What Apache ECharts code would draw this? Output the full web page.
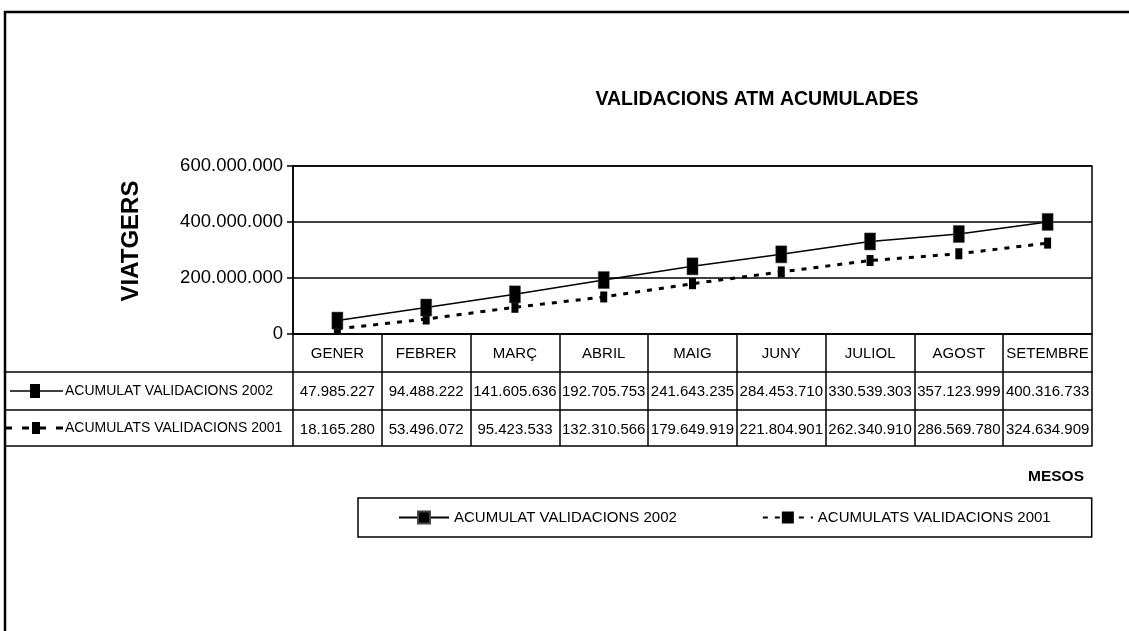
<!DOCTYPE html>
<html>
<head>
<meta charset="utf-8">
<script src="https://cdn.jsdelivr.net/npm/echarts@6/dist/echarts.min.js"></script>
<style>
  html, body { margin: 0; padding: 0; background: #fff; }
  #chart { width: 1129px; height: 631px; }
</style>
</head>
<body>
<div id="chart"></div>
<script>
// dades
const months = ['GENER', 'FEBRER', 'MARÇ', 'ABRIL', 'MAIG', 'JUNY', 'JULIOL', 'AGOST', 'SETEMBRE']
const val2002 = [47985227, 94488222, 141605636, 192705753, 241643235, 284453710, 330539303, 357123999, 400316733]
const val2001 = [18165280, 53496072, 95423533, 132310566, 179649919, 221804901, 262340910, 286569780, 324634909]
const name2002 = 'ACUMULAT VALIDACIONS 2002'
const name2001 = 'ACUMULATS VALIDACIONS 2001'
const yMin = 0
const yMax = 600000000
const yStep = 200000000

const FONT = '"Liberation Sans", Arial, sans-serif'

// layout
const plotLeft = 293
const plotRight = 1092
const plotTop = 166
const plotBottom = 334
const rows = [38, 38, 36]

function fmt(n) {
  return String(n).replace(/\B(?=(\d{3})+(?!\d))/g, '.')
}

const chart = echarts.init(document.getElementById('chart'))

const black = { color: '#000', width: 1.5 }

// eixos de categoria que fan de taula de dades
function tableAxis(offset, height, labels) {
  return {
    type: 'category',
    data: months,
    position: 'bottom',
    offset: offset,
    boundaryGap: true,
    axisLine: { show: true, lineStyle: black },
    axisTick: { show: height > 0, length: height, interval: 0, lineStyle: black },
    axisLabel: {
      show: !!labels,
      interval: 0,
      margin: 12,
      fontSize: 15,
      color: '#000',
      fontFamily: FONT,
      formatter: (v, i) => labels ? labels[i] : ''
    },
    splitLine: { show: false }
  }
}

const y1 = plotBottom + rows[0]
const y2 = y1 + rows[1]
const y3 = y2 + rows[2]

const option = {
  backgroundColor: '#fff',
  animation: false,
  title: {
    text: 'VALIDACIONS ATM ACUMULADES',
    left: 752,
    top: 85,
    textAlign: 'center',
    textStyle: { fontSize: 19.5, fontWeight: 'bold', color: '#000', fontFamily: FONT }
  },
  legend: {
    left: 358,
    top: 498,
    padding: [12, 41, 12, 40],
    itemGap: 85,
    itemWidth: 50,
    itemHeight: 15,
    borderColor: '#000',
    borderWidth: 1.5,
    textStyle: { fontSize: 15, color: '#000', fontFamily: FONT },
    data: [name2002, name2001]
  },
  grid: {
    left: plotLeft,
    right: 1129 - plotRight,
    top: plotTop,
    bottom: 631 - plotBottom,
    show: true,
    borderColor: '#000',
    borderWidth: 1.5
  },
  xAxis: [
    tableAxis(0, rows[0], months),
    tableAxis(rows[0], rows[1], val2002.map(fmt)),
    tableAxis(rows[0] + rows[1], rows[2], val2001.map(fmt)),
    tableAxis(rows[0] + rows[1] + rows[2], 0, null)
  ],
  yAxis: {
    type: 'value',
    min: yMin,
    max: yMax,
    interval: yStep,
    axisLine: { show: true, lineStyle: black },
    axisTick: { show: true, length: 6, lineStyle: black },
    axisLabel: {
      margin: 10,
      fontSize: 18.5,
      color: '#000',
      fontFamily: FONT,
      padding: [10, 0, 0, 0],
      formatter: v => fmt(v)
    },
    splitLine: { show: true, lineStyle: black }
  },
  series: [
    {
      name: name2001,
      type: 'line',
      data: val2001,
      symbol: 'rect',
      symbolSize: [7, 11],
      itemStyle: { color: '#000' },
      lineStyle: { color: '#000', width: 3, type: [5, 7], cap: 'butt' },
      z: 3
    },
    {
      name: name2002,
      type: 'line',
      data: val2002,
      symbol: 'rect',
      symbolSize: [11, 17],
      itemStyle: { color: '#000', borderColor: '#444', borderWidth: 0.5 },
      lineStyle: { color: '#000', width: 1.5 },
      z: 4
    }
  ],
  graphic: [
    // marc exterior
    { type: 'rect', shape: { x: 5, y: 12, width: 1200, height: 700 }, style: { fill: null, stroke: '#000', lineWidth: 2.5 }, silent: true },
    // taula: columna de llegenda
    { type: 'line', shape: { x1: 5, y1: y1, x2: plotLeft, y2: y1 }, style: { stroke: '#000', lineWidth: 1.5 } },
    { type: 'line', shape: { x1: 5, y1: y2, x2: plotLeft, y2: y2 }, style: { stroke: '#000', lineWidth: 1.5 } },
    { type: 'line', shape: { x1: 5, y1: y3, x2: plotLeft, y2: y3 }, style: { stroke: '#000', lineWidth: 1.5 } },
    { type: 'line', shape: { x1: 10, y1: (y1 + y2) / 2, x2: 63, y2: (y1 + y2) / 2 }, style: { stroke: '#000', lineWidth: 1.5 } },
    { type: 'rect', shape: { x: 30, y: (y1 + y2) / 2 - 7, width: 10, height: 14 }, style: { fill: '#000' } },
    { type: 'line', shape: { x1: 5, y1: (y2 + y3) / 2, x2: 63, y2: (y2 + y3) / 2 }, style: { stroke: '#000', lineWidth: 3, lineDash: [7, 10] } },
    { type: 'rect', shape: { x: 32, y: (y2 + y3) / 2 - 6, width: 8, height: 12 }, style: { fill: '#000' } },
    { type: 'text', x: 65, y: (y1 + y2) / 2, style: { text: name2002, fontSize: 14, fill: '#000', fontFamily: FONT, verticalAlign: 'middle' } },
    { type: 'text', x: 65, y: (y2 + y3) / 2, style: { text: name2001, fontSize: 14, fill: '#000', fontFamily: FONT, verticalAlign: 'middle' } },
    // títols d'eixos
    { type: 'text', x: 131, y: 241, rotation: Math.PI / 2, style: { text: 'VIATGERS', fontSize: 24, fontWeight: 'bold', fill: '#000', fontFamily: FONT, align: 'center', verticalAlign: 'middle' } },
    { type: 'text', x: 1084, y: 477, style: { text: 'MESOS', fontSize: 15.5, fontWeight: 'bold', fill: '#000', fontFamily: FONT, align: 'right', verticalAlign: 'middle' } }
  ]
}

chart.setOption(option)
</script>
</body>
</html>
